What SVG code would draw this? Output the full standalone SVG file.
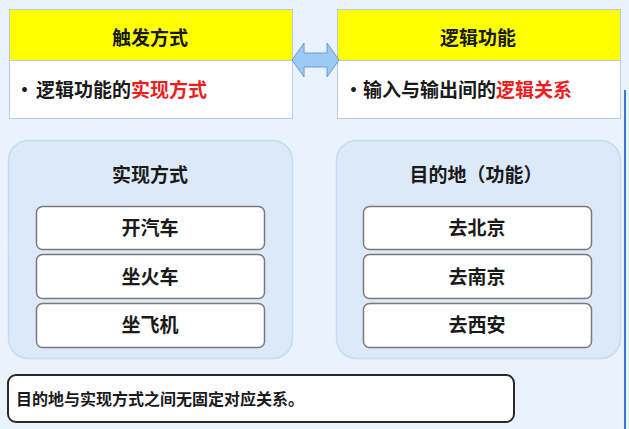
<svg xmlns="http://www.w3.org/2000/svg" width="629" height="429" viewBox="0 0 629 429">
<style>
text{font-family:"Noto Sans CJK SC","Liberation Sans",sans-serif;font-weight:bold;fill:#1a1a1a}
.hdr{fill:#ffff00;stroke:#b7cde6;stroke-width:1}
.body{fill:#ffffff;stroke:#b7cde6;stroke-width:1}
.grp{fill:#dce9f8;stroke:#c6daf0;stroke-width:1.5}
.item{fill:#ffffff;stroke:#7a7a7a;stroke-width:1.5}
.t19{font-size:19px}
.c{text-anchor:middle}
.red{fill:#ee1c1c}
</style>
<rect width="629" height="429" fill="#eaf2fc"/>
<line x1="625" y1="90" x2="625" y2="429" stroke="#3a7bd5" stroke-width="2"/>

<g id="trigger">
<rect class="hdr" x="9.5" y="9.5" width="283" height="51"/>
<rect class="body" x="9.5" y="60.5" width="283" height="58"/>
<text class="t19 c" x="150" y="45">触发方式</text>
<text class="t19" x="15" y="97">•</text>
<text class="t19" x="36" y="97">逻辑功能的<tspan class="red">实现方式</tspan></text>
</g>

<g id="logic">
<rect class="hdr" x="337.5" y="9.5" width="283" height="51"/>
<rect class="body" x="337.5" y="60.5" width="283" height="58"/>
<text class="t19 c" x="478" y="45">逻辑功能</text>
<text class="t19" x="344" y="97">•</text>
<text class="t19" x="363" y="97">输入与输出间的<tspan class="red">逻辑关系</tspan></text>
</g>

<g id="connectors">
<path d="M292,60 L304,43 L304,53 L327,53 L327,43 L339,60 L327,77 L327,67 L304,67 L304,77 Z" fill="#9ccaf4" stroke="#6e9ccc" stroke-width="1"/>
</g>

<g id="methods">
<rect class="grp" x="8.5" y="140.5" width="284" height="218" rx="20"/>
<text class="t19 c" x="150" y="182">实现方式</text>
</g>
<g id="car"><rect class="item" x="36.5" y="206.5" width="228" height="43" rx="6"/><text class="t19 c" x="150" y="235">开汽车</text></g>
<g id="train"><rect class="item" x="36.5" y="254.5" width="228" height="44" rx="6"/><text class="t19 c" x="150" y="284">坐火车</text></g>
<g id="plane"><rect class="item" x="36.5" y="303.5" width="228" height="44" rx="6"/><text class="t19 c" x="150" y="332">坐飞机</text></g>

<g id="destinations">
<rect class="grp" x="336.5" y="140.5" width="284" height="218" rx="20"/>
<text class="t19 c" x="476" y="182">目的地（功能）</text>
</g>
<g id="beijing"><rect class="item" x="363.5" y="206.5" width="228" height="43" rx="6"/><text class="t19 c" x="477" y="235">去北京</text></g>
<g id="nanjing"><rect class="item" x="363.5" y="254.5" width="228" height="44" rx="6"/><text class="t19 c" x="477" y="284">去南京</text></g>
<g id="xian"><rect class="item" x="363.5" y="303.5" width="228" height="44" rx="6"/><text class="t19 c" x="477" y="332">去西安</text></g>

<g id="note">
<rect x="8" y="375" width="506" height="47" rx="8" fill="#ffffff" stroke="#2a2a2a" stroke-width="2"/>
<text x="16" y="405" font-size="16">目的地与实现方式之间无固定对应关系。</text>
</g>
</svg>
